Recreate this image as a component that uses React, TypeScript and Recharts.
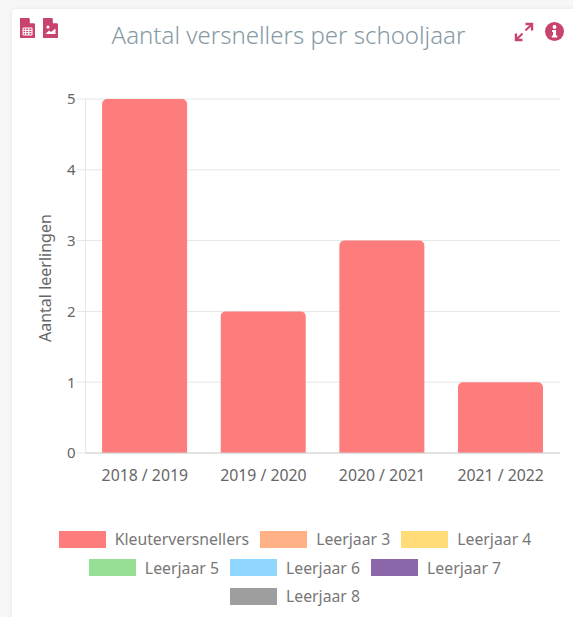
import * as React from "react";
import { BarChart, Bar, XAxis, YAxis, CartesianGrid, Legend } from "recharts";

const schoolYears = ["2018 / 2019", "2019 / 2020", "2020 / 2021", "2021 / 2022"];
const kleuter = [5, 2, 3, 1];
const leerjaar3 = [0, 0, 0, 0];
const leerjaar4 = [0, 0, 0, 0];
const leerjaar5 = [0, 0, 0, 0];
const leerjaar6 = [0, 0, 0, 0];
const leerjaar7 = [0, 0, 0, 0];
const leerjaar8 = [0, 0, 0, 0];
const yTicks = [0, 1, 2, 3, 4, 5];

const seriesNames = ["Kleuterversnellers", "Leerjaar 3", "Leerjaar 4", "Leerjaar 5", "Leerjaar 6", "Leerjaar 7", "Leerjaar 8"];
const seriesValues = [kleuter, leerjaar3, leerjaar4, leerjaar5, leerjaar6, leerjaar7, leerjaar8];
const seriesColors = ["#fd7d7d", "#ffb085", "#ffdc78", "#97df94", "#90d7ff", "#8b66a9", "#9e9e9e"];

const data = schoolYears.map((year, i) => {
  const row: Record<string, string | number> = { year };
  seriesNames.forEach((name, s) => {
    row[name] = seriesValues[s][i];
  });
  return row;
});

const font = '"Noto Sans", sans-serif';
const iconColor = "#c9446c";

function ChartLegend({ payload }: any) {
  return (
    <div style={{ display: "flex", flexWrap: "wrap", justifyContent: "center", width: 490, marginLeft: 50 }}>
      {(payload || []).map((item: any) => (
        <div key={item.value} style={{ display: "flex", alignItems: "center", height: 28.5, margin: "0 5.5px" }}>
          <span style={{ display: "inline-block", width: 47, height: 17, background: item.color, marginRight: 9 }} />
          <span style={{ fontFamily: font, fontSize: 15.8, color: "#777" }}>{item.value}</span>
        </div>
      ))}
    </div>
  );
}

function FileIcon({ x, image }: { x: number; image?: boolean }) {
  return (
    <svg style={{ position: "absolute", left: x, top: 18 }} width={15} height={20} viewBox="0 0 15 20">
      <path d="M0 0H9L15 6V20H0Z" fill={iconColor} />
      <path d="M9.8 0L15 5.2H9.8Z" fill="#fff" />
      {image ? (
        <>
          <circle cx={5} cy={9} r={1.6} fill="#fff" />
          <path d="M2.5 16L6 12.5L8 14L12.5 10.5V16Z" fill="#fff" />
        </>
      ) : (
        <path d="M3 10H12V17H3Z M5.7 10V17 M8.7 10V17 M3 12.4H12 M3 14.7H12" fill="none" stroke="#fff" strokeWidth={1} />
      )}
    </svg>
  );
}

export default function App() {
  return (
    <div style={{ position: "fixed", left: 0, top: 0, width: 573, height: 617, background: "#f7f7f7", overflow: "hidden" }}>
      <div style={{ position: "absolute", left: 12, top: 9, width: 600, height: 660, background: "#fff", borderRadius: 4, boxShadow: "0 0 5px rgba(0,0,0,0.08)" }} />
      <FileIcon x={20} />
      <FileIcon x={43} image />
      <div style={{ position: "absolute", left: 0, top: 18, width: 577, textAlign: "center", fontFamily: font, fontWeight: 300, fontSize: 24, lineHeight: "34px", color: "#869aa5" }}>
        Aantal versnellers per schooljaar
      </div>
      <svg style={{ position: "absolute", left: 514, top: 22 }} width={20} height={20} viewBox="0 0 20 20">
        <path d="M2.5 17.5L8.5 11.5 M11.5 8.5L17.5 2.5" stroke={iconColor} strokeWidth={2} />
        <path d="M11.5 2H18V8.5 M8.5 18H2V11.5" fill="none" stroke={iconColor} strokeWidth={2.4} />
      </svg>
      <svg style={{ position: "absolute", left: 545, top: 22 }} width={19} height={19} viewBox="0 0 19 19">
        <circle cx={9.5} cy={9.5} r={9.5} fill={iconColor} />
        <circle cx={9.5} cy={5} r={1.9} fill="#fff" />
        <path d="M7 8H11V13.5H12.3V15.5H6.8V13.5H8V10H7Z" fill="#fff" />
      </svg>
      <div style={{ position: "absolute", left: 0, top: 0 }}>
        <BarChart
          width={573}
          height={617}
          data={data}
          margin={{ top: 99, right: 13, left: 0, bottom: 6.5 }}
          barCategoryGap="14%"
          style={{ fontFamily: font }}
        >
          <CartesianGrid vertical={false} stroke="#e6e6e6" />
          <XAxis
            dataKey="year"
            height={72}
            stroke="#d0d0d0"
            tickLine={false}
            tickMargin={11}
            interval={0}
            tick={{ fontSize: 15.8, fill: "#666" }}
          />
          <YAxis
            width={85.5}
            domain={[0, 5]}
            ticks={yTicks}
            stroke="#e6e6e6"
            tickSize={9}
            tickMargin={1}
            tick={{ fontSize: 15, fill: "#666" }}
            label={{ value: "Aantal leerlingen", angle: -90, position: "insideLeft", dx: 40, dy: 66, style: { fontSize: 16, fill: "#666" } }}
          />
          <Legend content={<ChartLegend />} itemSorter={null} />
          {seriesNames.map((name, s) => (
            <Bar key={name} dataKey={name} stackId="a" fill={seriesColors[s]} radius={[5, 5, 0, 0]} isAnimationActive={false} />
          ))}
        </BarChart>
      </div>
    </div>
  );
}
